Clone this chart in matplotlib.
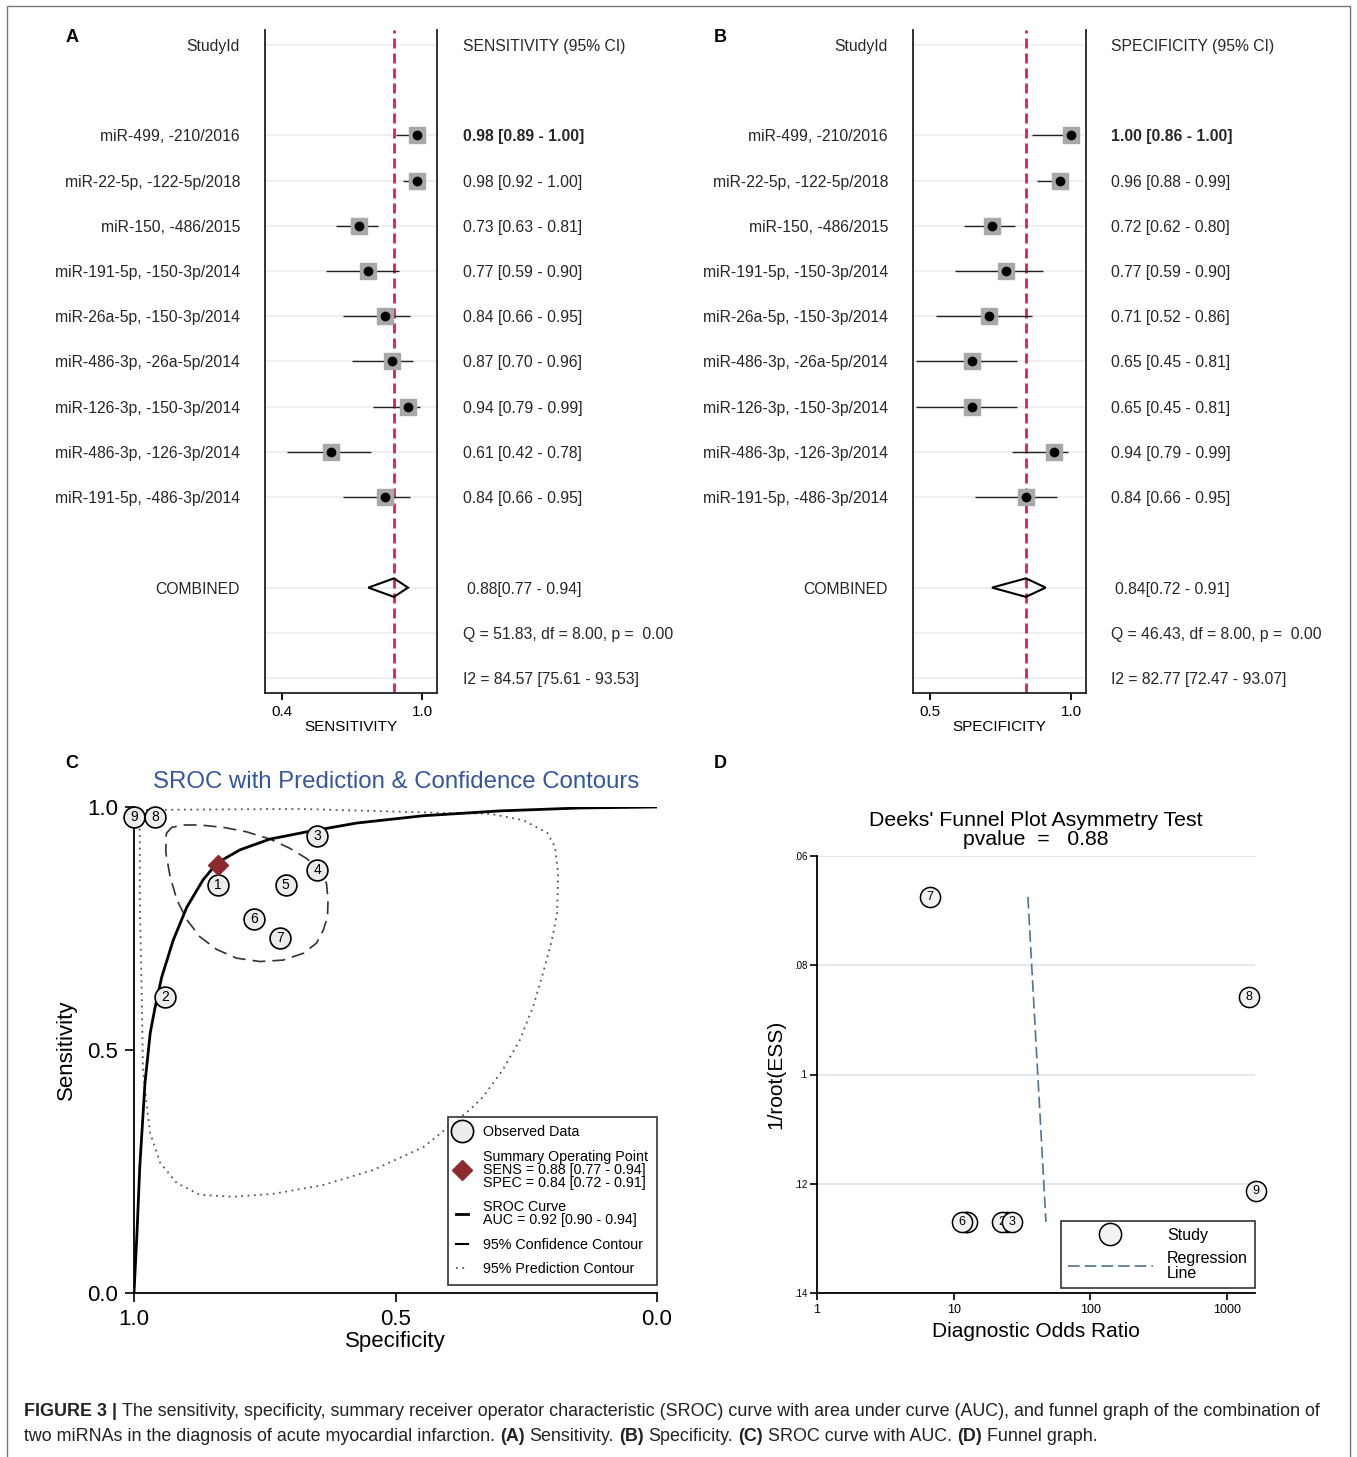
import matplotlib
matplotlib.use("Agg")
import matplotlib.pyplot as plt
import matplotlib.transforms as mtransforms
from matplotlib import font_manager
from matplotlib.lines import Line2D
from matplotlib.patches import Polygon, Rectangle
from matplotlib.ticker import NullLocator
import numpy as np

plt.rcParams['font.family'] = ['Liberation Sans', 'DejaVu Sans']

ANCHO, ALTO = 1357, 1457

# ---------------- datos ----------------
estudios = ["miR-499, -210/2016", "miR-22-5p, -122-5p/2018", "miR-150, -486/2015",
            "miR-191-5p, -150-3p/2014", "miR-26a-5p, -150-3p/2014", "miR-486-3p, -26a-5p/2014",
            "miR-126-3p, -150-3p/2014", "miR-486-3p, -126-3p/2014", "miR-191-5p, -486-3p/2014"]

sens_est = [0.98, 0.98, 0.73, 0.77, 0.84, 0.87, 0.94, 0.61, 0.84]
sens_lo = [0.89, 0.92, 0.63, 0.59, 0.66, 0.70, 0.79, 0.42, 0.66]
sens_hi = [1.00, 1.00, 0.81, 0.90, 0.95, 0.96, 0.99, 0.78, 0.95]
sens_comb = [0.88, 0.77, 0.94]
sens_q = "Q = 51.83, df = 8.00, p =  0.00"
sens_i2 = "I2 = 84.57 [75.61 - 93.53]"

spec_est = [1.00, 0.96, 0.72, 0.77, 0.71, 0.65, 0.65, 0.94, 0.84]
spec_lo = [0.86, 0.88, 0.62, 0.59, 0.52, 0.45, 0.45, 0.79, 0.66]
spec_hi = [1.00, 0.99, 0.80, 0.90, 0.86, 0.81, 0.81, 0.99, 0.95]
spec_comb = [0.84, 0.72, 0.91]
spec_q = "Q = 46.43, df = 8.00, p =  0.00"
spec_i2 = "I2 = 82.77 [72.47 - 93.07]"

# SROC: los círculos 1..9 son los estudios en orden inverso
obs_num = [1, 2, 3, 4, 5, 6, 7, 8, 9]
obs_spec = spec_est[::-1]
obs_sens = sens_est[::-1]

# curva SROC (especificidad, sensibilidad)
curva_spec = [1.000, 0.994, 0.989, 0.979, 0.969, 0.960, 0.947, 0.925, 0.899, 0.868, 0.841,
              0.797, 0.740, 0.669, 0.574, 0.447, 0.300, 0.147, 0.000]
curva_sens = [0.000, 0.130, 0.259, 0.432, 0.535, 0.586, 0.650, 0.726, 0.794, 0.850, 0.885,
              0.912, 0.934, 0.949, 0.967, 0.982, 0.992, 0.998, 1.000]

# contorno de confianza 95%
conf_spec = [0.938, 0.928, 0.906, 0.874, 0.829, 0.785, 0.740, 0.702, 0.670, 0.644, 0.632, 0.629,
             0.630, 0.638, 0.651, 0.676, 0.715, 0.759, 0.804, 0.842, 0.874, 0.899, 0.918, 0.931,
             0.939, 0.939, 0.938]
conf_sens = [0.946, 0.958, 0.963, 0.963, 0.958, 0.949, 0.934, 0.915, 0.894, 0.870, 0.843, 0.809,
             0.774, 0.747, 0.720, 0.699, 0.685, 0.682, 0.689, 0.707, 0.733, 0.768, 0.809, 0.857,
             0.905, 0.932, 0.946]

# contorno de predicción 95%
pred_spec = [0.989, 0.683, 0.415, 0.319, 0.256, 0.210, 0.195, 0.189, 0.191, 0.201, 0.218, 0.237,
             0.262, 0.295, 0.333, 0.358, 0.447, 0.543, 0.639, 0.734, 0.811, 0.874, 0.918, 0.950,
             0.969, 0.977, 0.983, 0.985, 0.989, 0.989]
pred_sens = [0.994, 0.996, 0.988, 0.986, 0.973, 0.947, 0.918, 0.864, 0.782, 0.726, 0.658, 0.589,
             0.521, 0.459, 0.403, 0.377, 0.300, 0.253, 0.222, 0.204, 0.198, 0.202, 0.226, 0.268,
             0.329, 0.397, 0.465, 0.603, 0.809, 0.994]

# Deeks
deeks_num = [1, 2, 3, 4, 5, 6, 7, 8, 9]
deeks_dor = [24.5, 22.5, 26.5, 12.2, 12.6, 11.5, 6.7, 1446, 1619]
deeks_ess = [0.1270, 0.1270, 0.1270, 0.1270, 0.1270, 0.1270, 0.0675, 0.0858, 0.1213]
reg_dor = [34.9, 47.3]
reg_ess = [0.0675, 0.1270]

fig = plt.figure(figsize=(ANCHO / 100, ALTO / 100), dpi=100)


def ejes_px(izq, arr, der, aba):
    return fig.add_axes([izq / ANCHO, 1 - aba / ALTO, (der - izq) / ANCHO, (aba - arr) / ALTO])


def bosque(izq, der, xlim, ticks, est, lo, hi, comb, q, i2, encabezado, etiqueta, x_lbl, x_val):
    ax = ejes_px(izq, 30, der, 693)
    ax.set_xlim(*xlim)
    ax.set_ylim(14.33, -0.33)
    filas = np.arange(2, 11)
    for r in [0, *filas, 12, 13, 14]:
        ax.axhline(r, color='#ececec', lw=1.2, zorder=0)
    ax.axvline(comb[0], color='#d6254f', lw=2, ls=(0, (3.6, 1.8)), zorder=1)
    ax.hlines(filas, lo, hi, color='#222222', lw=1, zorder=2)
    ax.plot(est, filas, 's', ms=11.5, mfc='#a8a8a8', mec='#a8a8a8', ls='none', zorder=3)
    ax.plot(est, filas, 'o', ms=6, color='black', ls='none', zorder=4)
    rombo = Polygon([[comb[1], 12], [comb[0], 11.795], [comb[2], 12], [comb[0], 12.205]],
                    closed=True, fill=False, ec='black', lw=1.5, zorder=3)
    ax.add_patch(rombo)
    ax.spines['top'].set_visible(False)
    for s in ['left', 'right', 'bottom']:
        ax.spines[s].set_linewidth(1.3)
        ax.spines[s].set_color('#222222')
    ax.set_yticks([])
    ax.set_xticks(ticks)
    ax.set_xticklabels([f"{t:.1f}" for t in ticks])
    ax.tick_params(axis='x', length=5, width=1.3, pad=4, labelsize=11)
    ax.set_xlabel(etiqueta, fontsize=11)
    ax.xaxis.set_label_coords(0.5, -0.041)
    ax.xaxis.label.set_va('top')

    tr = mtransforms.blended_transform_factory(fig.transFigure, ax.transData)
    col = '#262626'
    fs = 11.3
    va = 'center_baseline'
    ax.text(x_lbl / ANCHO, 0, "StudyId", transform=tr, ha='right', va=va, fontsize=fs, color=col)
    ax.text(x_val / ANCHO, 0, encabezado, transform=tr, ha='left', va=va, fontsize=fs, color=col)
    for k, r in enumerate(filas):
        ax.text(x_lbl / ANCHO, r, estudios[k], transform=tr, ha='right', va=va,
                fontsize=fs, color=col)
        ax.text(x_val / ANCHO, r, f"{est[k]:.2f} [{lo[k]:.2f} - {hi[k]:.2f}]", transform=tr,
                ha='left', va=va, fontsize=fs, color=col,
                weight='bold' if k == 0 else 'normal')
    ax.text(x_lbl / ANCHO, 12, "COMBINED", transform=tr, ha='right', va=va, fontsize=fs, color=col)
    ax.text((x_val + 4) / ANCHO, 12, f"{comb[0]:.2f}[{comb[1]:.2f} - {comb[2]:.2f}]", transform=tr,
            ha='left', va=va, fontsize=fs, color=col)
    ax.text(x_val / ANCHO, 13, q, transform=tr, ha='left', va=va, fontsize=fs, color=col)
    ax.text(x_val / ANCHO, 14, i2, transform=tr, ha='left', va=va, fontsize=fs, color=col)
    return ax


# ---------------- A y B ----------------
bosque(265, 437, (0.3271, 1.0643), [0.4, 1.0], sens_est, sens_lo, sens_hi, sens_comb,
       sens_q, sens_i2, "SENSITIVITY (95% CI)", "SENSITIVITY", 240, 463)
bosque(913, 1086, (0.4397, 1.0532), [0.5, 1.0], spec_est, spec_lo, spec_hi, spec_comb,
       spec_q, spec_i2, "SPECIFICITY (95% CI)", "SPECIFICITY", 888, 1111)

# ---------------- C: SROC ----------------
ax_c = ejes_px(134, 807, 657, 1293)
ax_c.set_xlim(1, 0)
ax_c.set_ylim(0, 1)
ax_c.plot(pred_spec, pred_sens, color='#555555', lw=1.3, ls=(0, (1, 2.5)), zorder=2)
ax_c.plot(conf_spec, conf_sens, color='#333333', lw=1.2, ls=(0, (7.8, 4.2)), zorder=2)
ax_c.plot(curva_spec, curva_sens, color='black', lw=2.0, zorder=3)
for n, x, y in zip(obs_num, obs_spec, obs_sens):
    ax_c.plot(x, y, 'o', ms=15, mfc='#ececec', mec='black', mew=1.2, clip_on=False, zorder=4)
    ax_c.text(x, y, str(n), ha='center', va='center', fontsize=10, zorder=5)
ax_c.plot(spec_comb[0], sens_comb[0], 'D', ms=10, color='#8c2a2e', zorder=6)
for s in ['top', 'right']:
    ax_c.spines[s].set_visible(False)
for s in ['left', 'bottom']:
    ax_c.spines[s].set_linewidth(1.3)
ax_c.set_xticks([1.0, 0.5, 0.0])
ax_c.set_xticklabels(["1.0", "0.5", "0.0"])
ax_c.set_yticks([0.0, 0.5, 1.0])
ax_c.set_yticklabels(["0.0", "0.5", "1.0"])
ax_c.tick_params(length=6.5, width=1.2, pad=5, labelsize=16)
ax_c.set_xlabel("Specificity", fontsize=16)
ax_c.xaxis.set_label_coords(0.5, -0.078)
ax_c.xaxis.label.set_va('top')
ax_c.set_ylabel("Sensitivity", fontsize=16)
ax_c.yaxis.set_label_coords(-0.109, 0.5)
fig.text(396 / ANCHO, 1 - 782 / ALTO, "SROC with Prediction & Confidence Contours",
         ha='center', va='center', fontsize=17.3, color='#34559f')

h_c = [Line2D([], [], marker='o', ls='none', ms=16, mfc='#ececec', mec='black', mew=1.2),
       Line2D([], [], marker='D', ls='none', ms=10, color='#8c2a2e'),
       Line2D([], [], color='black', lw=2),
       Line2D([], [], color='black', lw=1.5),
       Line2D([], [], color='#555555', lw=1.3, ls=(0, (1, 2.5)))]
t_c = ["Observed Data",
       f"Summary Operating Point\nSENS = {sens_comb[0]:.2f} [{sens_comb[1]:.2f} - {sens_comb[2]:.2f}]\n"
       f"SPEC = {spec_comb[0]:.2f} [{spec_comb[1]:.2f} - {spec_comb[2]:.2f}]",
       "SROC Curve\nAUC = 0.92 [0.90 - 0.94]",
       "95% Confidence Contour",
       "95% Prediction Contour"]
leg_c = ax_c.legend(h_c, t_c, loc='lower right', bbox_to_anchor=(1.0, 0.0165), fontsize=10.3,
                    frameon=True, fancybox=False, edgecolor='black', handlelength=0.85,
                    handletextpad=1.05, labelspacing=0.75, borderpad=0.6, borderaxespad=0)
leg_c.get_frame().set_linewidth(1.2)
for t in leg_c.get_texts():
    t.set_linespacing(0.88)

# ---------------- D: Deeks ----------------
ax_d = ejes_px(817, 856, 1255, 1293)
ax_d.set_xscale('log')
ax_d.set_xlim(1, 1600)
ax_d.set_ylim(0.14, 0.06)
ax_d.set_yticks([0.06, 0.08, 0.10, 0.12, 0.14])
ax_d.set_yticklabels([".06", ".08", ".1", ".12", ".14"])
ax_d.set_xticks([1, 10, 100, 1000])
ax_d.set_xticklabels(["1", "10", "100", "1000"])
ax_d.xaxis.set_minor_locator(NullLocator())
ax_d.tick_params(axis='y', length=5, width=1.2, labelsize=7, pad=2)
ax_d.tick_params(axis='x', length=5, width=1.2, labelsize=9, pad=3)
ax_d.yaxis.grid(True, color='#dfe7eb', lw=1.3)
ax_d.set_axisbelow(True)
for s in ['top', 'right']:
    ax_d.spines[s].set_visible(False)
for s in ['left', 'bottom']:
    ax_d.spines[s].set_linewidth(1.3)
ax_d.plot(reg_dor, reg_ess, color='#4f7395', lw=1.2, ls=(0, (7, 3)), zorder=2)
for i, (n, x, y) in enumerate(zip(deeks_num, deeks_dor, deeks_ess)):
    ax_d.plot(x, y, 'o', ms=14.5, mfc='#f2f2f2', mec='black', mew=1.1, clip_on=False, zorder=3 + 2 * i)
    ax_d.text(x, y, str(n), ha='center', va='center', fontsize=9, zorder=4 + 2 * i)
ax_d.set_xlabel("Diagnostic Odds Ratio", fontsize=15)
ax_d.xaxis.set_label_coords(0.5, -0.066)
ax_d.xaxis.label.set_va('top')
ax_d.set_ylabel("1/root(ESS)", fontsize=15)
ax_d.yaxis.set_label_coords(-0.073, 0.5)
fig.text(1036 / ANCHO, 1 - 830 / ALTO, "Deeks' Funnel Plot Asymmetry Test\npvalue  =   0.88",
         ha='center', va='center', fontsize=15.3, linespacing=0.98)
h_d = [Line2D([], [], marker='o', ls='none', ms=16, mfc='#f2f2f2', mec='black', mew=1.1),
       Line2D([], [], color='#4f7395', lw=1.2, ls=(0, (7, 3)))]
leg_d = ax_d.legend(h_d, ["Study", "Regression\nLine"], loc='lower right', bbox_to_anchor=(1.0, 0.011),
                    fontsize=11.5, fancybox=False, edgecolor='black', handlelength=5.3,
                    handletextpad=0.9, borderpad=0.45, labelspacing=0.5, borderaxespad=0)
leg_d.get_frame().set_linewidth(1.2)
for t in leg_d.get_texts():
    t.set_linespacing(1.0)

# ---------------- letras de panel y marco ----------------
for letra, x, y in [("A", 72, 38), ("B", 720, 38), ("C", 72, 764), ("D", 720, 764)]:
    fig.text(x / ANCHO, 1 - y / ALTO, letra, ha='center', va='center', fontsize=13, weight='bold')

fig.add_artist(Rectangle((7 / ANCHO, -0.01), (1350 - 7) / ANCHO, 1.01 - 6 / ALTO,
                         transform=fig.transFigure, fill=False, ec='#777777', lw=1))

# ---------------- pie de figura ----------------
nombres = {f.name for f in font_manager.fontManager.ttflist}
fam_pie = 'Liberation Sans Narrow' if 'Liberation Sans Narrow' in nombres else 'Liberation Sans'
renderer = fig.canvas.get_renderer()

linea1 = [("FIGURE 3 |", True),
          ("The sensitivity, specificity, summary receiver operator characteristic (SROC) curve with "
           "area under curve (AUC), and funnel graph of the combination of", False)]
linea2 = [("two miRNAs in the diagnosis of acute myocardial infarction.", False), ("(A)", True),
          ("Sensitivity.", False), ("(B)", True), ("Specificity.", False), ("(C)", True),
          ("SROC curve with AUC.", False), ("(D)", True), ("Funnel graph.", False)]


def renglon(piezas, x0, y, size, dibujar=True):
    a = fig.text(0, 0, "a a", fontsize=size, family=fam_pie)
    b = fig.text(0, 0, "aa", fontsize=size, family=fam_pie)
    esp = a.get_window_extent(renderer).width - b.get_window_extent(renderer).width
    a.remove()
    b.remove()
    x = x0
    for txt, negrita in piezas:
        t = fig.text(x / ANCHO, 1 - y / ALTO, txt, fontsize=size, family=fam_pie,
                     weight='bold' if negrita else 'normal', va='baseline', color='#222222')
        x += t.get_window_extent(renderer).width + esp
        if not dibujar:
            t.remove()
    return x - esp


ancho1 = renglon(linea1, 0, 1417, 12, dibujar=False)
tam = 12 * (1318 - 24) / ancho1
renglon(linea1, 24, 1416, tam)
renglon(linea2, 24, 1441, tam)

fig.savefig("out.png", dpi=100)
plt.close(fig)
